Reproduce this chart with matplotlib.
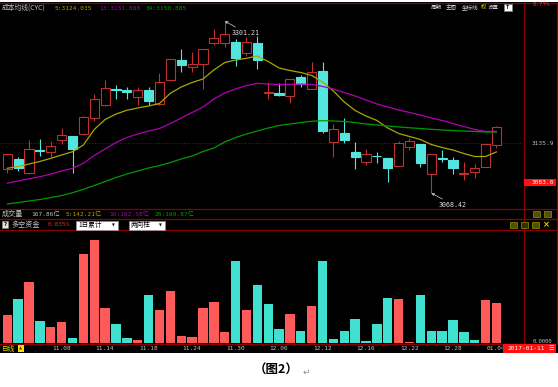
import matplotlib
matplotlib.use('Agg')
import matplotlib.pyplot as plt
from matplotlib.patches import Rectangle
import numpy as np

plt.rcParams['font.family'] = ['DejaVu Sans Mono', 'Noto Sans CJK SC']

# ---------------- data ----------------
dates = ['11.01', '11.02', '11.03', '11.04', '11.07', '11.08', '11.09', '11.10', '11.11',
         '11.14', '11.15', '11.16', '11.17', '11.18', '11.21', '11.22', '11.23', '11.24',
         '11.25', '11.28', '11.29', '11.30', '12.01', '12.02', '12.05', '12.06', '12.07',
         '12.08', '12.09', '12.12', '12.13', '12.14', '12.15', '12.16', '12.19', '12.20',
         '12.21', '12.22', '12.23', '12.26', '12.27', '12.28', '12.29', '12.30', '01.03',
         '01.04']
tick_dates = ['11.08', '11.14', '11.18', '11.24', '11.30', '12.06', '12.12', '12.16',
              '12.22', '12.28', '01.04']

opens = [3100.5, 3114.8, 3095.1, 3126.2, 3124.3, 3140.2, 3145.2, 3147.9, 3169.5, 3187.5,
         3209.4, 3208.2, 3198.8, 3207.4, 3188.9, 3221.4, 3248.4, 3238.5, 3242.6, 3271.0,
         3271.0, 3272.8, 3258.3, 3271.0, 3204.0, 3203.4, 3199.7, 3225.8, 3209.2, 3233.9,
         3137.9, 3149.2, 3124.3, 3110.0, 3118.8, 3115.4, 3105.4, 3131.1, 3134.3, 3094.1,
         3115.8, 3113.1, 3094.8, 3096.4, 3104.0, 3133.4]
closes = [3120.8, 3102.7, 3128.0, 3125.4, 3132.0, 3146.5, 3127.6, 3171.3, 3196.1, 3210.9,
          3208.4, 3205.5, 3208.2, 3192.9, 3218.2, 3249.4, 3241.6, 3242.6, 3262.9, 3277.8,
          3283.2, 3250.7, 3273.2, 3248.4, 3204.6, 3200.6, 3222.3, 3216.3, 3232.6, 3152.3,
          3154.6, 3140.2, 3116.7, 3121.2, 3118.1, 3101.9, 3136.5, 3139.2, 3108.6, 3121.2,
          3114.8, 3101.9, 3095.3, 3102.7, 3134.7, 3158.2]
highs = [3121.2, 3117.6, 3140.2, 3141.1, 3139.2, 3156.0, 3145.6, 3172.0, 3202.4, 3221.4,
         3215.0, 3211.5, 3211.5, 3212.3, 3230.4, 3250.2, 3263.3, 3258.8, 3263.4, 3290.0,
         3301.21, 3277.3, 3279.1, 3280.9, 3219.1, 3216.9, 3222.6, 3228.1, 3246.1, 3246.1,
         3161.8, 3169.5, 3137.9, 3128.0, 3124.3, 3116.0, 3139.2, 3142.5, 3134.6, 3121.6,
         3126.6, 3117.6, 3110.8, 3107.7, 3135.2, 3159.6]
lows = [3095.9, 3098.6, 3094.1, 3118.5, 3116.7, 3134.7, 3095.9, 3147.0, 3166.3, 3186.2,
        3195.2, 3196.1, 3187.5, 3187.5, 3188.0, 3220.8, 3232.6, 3232.6, 3209.2, 3269.1,
        3265.6, 3240.3, 3253.8, 3235.8, 3195.2, 3199.8, 3189.8, 3212.3, 3208.8, 3149.2,
        3117.5, 3135.7, 3100.5, 3106.3, 3109.4, 3083.7, 3105.0, 3126.6, 3104.0, 3068.42,
        3110.8, 3094.1, 3086.0, 3088.3, 3103.6, 3128.9]

cyc5 = [3101.9, 3104.3, 3107.7, 3111.1, 3115.4, 3119.9, 3124.3, 3133.4, 3154.4, 3167.9,
        3175.3, 3180.4, 3183.5, 3186.2, 3189.6, 3203.4, 3211.9, 3218.0, 3222.7, 3234.9,
        3245.0, 3248.4, 3250.7, 3253.8, 3246.4, 3237.6, 3234.2, 3231.5, 3227.5, 3218.7,
        3206.5, 3191.6, 3180.1, 3172.6, 3166.6, 3156.4, 3149.0, 3144.9, 3140.8, 3134.1,
        3130.0, 3126.6, 3121.9, 3117.8, 3117.8, 3124.035]
cyc13 = [3081.6, 3084.7, 3087.6, 3090.5, 3094.1, 3098.2, 3101.9, 3108.6, 3119.2, 3128.0,
         3136.8, 3143.5, 3148.3, 3152.3, 3155.7, 3162.5, 3169.9, 3177.4, 3184.8, 3195.6,
         3203.8, 3209.2, 3213.9, 3216.9, 3215.9, 3215.3, 3215.5, 3215.7, 3215.5, 3212.6,
         3209.2, 3204.4, 3199.7, 3194.3, 3188.9, 3184.8, 3180.8, 3177.4, 3174.0, 3169.9,
         3166.6, 3162.5, 3158.4, 3154.4, 3151.7, 3151.888]
cyc34 = [3053.5, 3055.6, 3057.6, 3059.6, 3062.3, 3065.0, 3068.8, 3073.4, 3078.6, 3084.0,
         3089.4, 3094.1, 3098.2, 3102.3, 3105.6, 3109.7, 3114.4, 3118.5, 3124.6, 3129.3,
         3137.5, 3143.5, 3148.3, 3152.3, 3156.4, 3159.8, 3161.8, 3163.8, 3165.5, 3166.3,
         3165.9, 3165.2, 3163.8, 3161.8, 3160.5, 3159.1, 3157.8, 3156.7, 3155.7, 3154.6,
         3153.7, 3153.0, 3152.3, 3151.7, 3151.0, 3150.885]

# 多空资金 (positive = red / inflow, negative = cyan / outflow)
fund_flow = [28.3, -44.3, 61.0, -22.6, 16.0, 21.6, -5.3, 89.0, 103.3, 35.0, -19.3, -5.3,
             3.3, -48.6, 33.0, 52.6, 7.3, 6.0, 35.6, 41.0, 11.6, -82.6, 33.6, -58.3, -39.3,
             -14.0, 29.3, -12.6, 37.0, -82.6, -4.0, -12.0, -24.3, -2.3, -19.0, -45.3, 44.0,
             1.3, -48.6, -12.0, -12.6, -23.0, -11.3, -3.3, 43.3, 40.3]

prev_close = 3135.9
cursor_price = 3083.0
cursor_date = '2017-01-11'
vol_labels = ['167.86亿', '5:142.21亿', '10:162.58亿', '20:169.87亿']

# ---------------- style ----------------
W, H = 558, 387
GRAY = '#C0C0C0'
RED_LINE = '#8B0000'
C_RED = '#C03030'
C_CYAN = '#54E6DE'
B_RED = '#FF5A5A'
B_CYAN = '#40E0D0'
Y_COL, M_COL, G_COL = '#A8A800', '#B000B0', '#009A00'
FS = 4.4
CJ = 5.1
CJK = ['Noto Sans CJK SC', 'DejaVu Sans']

fig = plt.figure(figsize=(W / 100, H / 100), dpi=100)
fig.patch.set_facecolor('white')


def rect(x0, y0, x1, y1):
    return [x0 / W, 1 - y1 / H, (x1 - x0) / W, (y1 - y0) / H]


bg = fig.add_axes([0, 0, 1, 1])
bg.set_xlim(0, W)
bg.set_ylim(H, 0)
bg.axis('off')
bg.add_patch(Rectangle((0, 2), W, 350.5, facecolor='black', edgecolor='none', zorder=0))
for yy in [3, 209, 219, 230]:
    bg.plot([0, W], [yy, yy], color=RED_LINE, lw=0.9, zorder=1)
bg.plot([0, 523.5], [343.8, 343.8], color=RED_LINE, lw=0.9, zorder=1)
bg.plot([523.5, 523.5], [3, 343.8], color=RED_LINE, lw=0.9, zorder=1)
bg.plot([556.5, 556.5], [3, 343.8], color=RED_LINE, lw=0.9, zorder=1)

x = np.arange(len(dates))
xl = (-7.3 / 10.87, (523 - 7.3) / 10.87)

# ---------------- main price panel ----------------
ax = fig.add_axes(rect(0, 3, 523, 209))
ax.set_facecolor('none')
for s in ax.spines.values():
    s.set_visible(False)
ax.set_xlim(*xl)
ax.set_ylim(3046.77, 3325.57)
ax.set_xticks([])

for i in x:
    o, c, h, l = opens[i], closes[i], highs[i], lows[i]
    up = c >= o
    col = C_RED if up else C_CYAN
    ax.vlines(i, l, h, color=col, lw=0.8, zorder=2)
    ax.add_patch(Rectangle((i - 0.42, min(o, c)), 0.84, max(abs(c - o), 0.05),
                           facecolor='black' if up else col, edgecolor=col,
                           lw=0.8, zorder=3))

ax.plot(x, cyc5, color=Y_COL, lw=0.9, zorder=4)
ax.plot(x, cyc13, color=M_COL, lw=0.9, zorder=4)
ax.plot(x, cyc34, color=G_COL, lw=0.9, zorder=4)
ax.axhline(prev_close, color=RED_LINE, lw=0.8, ls=(0, (1, 1.5)), zorder=1)

hi = int(np.argmax(highs))
lo = int(np.argmin(lows))
ax.annotate(f'{highs[hi]:.2f}', xy=(hi, highs[hi]), xytext=(5, -8.5),
            textcoords='offset points', ha='left', va='center', color='#E0E0E0',
            fontsize=FS + 0.4,
            arrowprops=dict(arrowstyle='-|>', color='#B0B0B0', lw=0.6,
                            mutation_scale=4, shrinkA=0, shrinkB=0))
ax.annotate(f'{lows[lo]:.2f}', xy=(lo, lows[lo]), xytext=(5.5, -8.5),
            textcoords='offset points', ha='left', va='center', color='#E0E0E0',
            fontsize=FS + 0.4,
            arrowprops=dict(arrowstyle='-|>', color='#B0B0B0', lw=0.6,
                            mutation_scale=4, shrinkA=0, shrinkB=0))

ax.yaxis.tick_right()
ax.set_yticks([prev_close])
ax.set_yticklabels([f'{prev_close:.1f}'])
ax.tick_params(axis='y', length=0, pad=6.3, labelcolor=GRAY, labelsize=FS)
ytr = ax.get_yaxis_transform()
ax.add_patch(Rectangle((1.002, cursor_price - 5.0), 0.062, 10.0, transform=ytr,
                       facecolor='#FF1010', edgecolor='none', clip_on=False, zorder=5))
ax.text(1.017, cursor_price, f'{cursor_price:.1f}', transform=ytr, color='white',
        fontsize=FS, va='center', ha='left', clip_on=False, zorder=6)

# ---------------- fund flow panel ----------------
vax = fig.add_axes(rect(0, 230, 523, 343.3))
vax.set_facecolor('none')
for s in vax.spines.values():
    s.set_visible(False)
vax.set_xlim(*xl)
vax.set_ylim(0, 113.3)
vax.set_yticks([])
flow = np.array(fund_flow)
vax.bar(x, np.abs(flow), width=0.86, color=[B_RED if v > 0 else B_CYAN for v in flow],
        edgecolor='none', zorder=2)
vax.set_xticks([dates.index(d) for d in tick_dates])
vax.set_xticklabels(tick_dates)
vax.tick_params(axis='x', length=0, pad=2.3, labelcolor=GRAY, labelsize=FS)

# ---------------- overlay texts ----------------
top = fig.add_axes([0, 0, 1, 1])
top.set_facecolor('none')
top.set_xlim(0, W)
top.set_ylim(H, 0)
top.axis('off')


def t(xp, yp, s, color=GRAY, size=FS, **kw):
    top.text(xp, yp, s, color=color, fontsize=size, va='center', ha='left', **kw)


t(2, 8, '成本均线(CYC)', GRAY, 4.9, family=CJK)
t(55, 8, f'5:{cyc5[-1]:.3f}', Y_COL)
t(99, 8, f'13:{cyc13[-1]:.3f}', M_COL)
t(146, 8, f'34:{cyc34[-1]:.3f}', G_COL)

MS = 4.0
t(431, 7.5, '周期', '#D0D0D0', MS, family=CJK)
t(446, 7.5, '主图', '#D0D0D0', MS, family=CJK)
t(462, 7.5, '坐标线', '#D0D0D0', MS, family=CJK)
t(480.5, 7.5, '权', '#D8D800', MS, family=CJK)
t(488, 7.5, '设置', '#D0D0D0', MS, family=CJK)
top.add_patch(Rectangle((504, 3.8), 7.5, 7.5, facecolor='white', edgecolor='#808080', lw=0.5))
top.text(507.8, 7.6, '↑', color='black', fontsize=4.5, ha='center', va='center',
         family='DejaVu Sans', fontweight='bold')
t(533, 5, '0.77%', '#FF2A2A', 4.2)

t(2, 214, '成交量', GRAY, CJ, family=CJK)
t(31, 214, vol_labels[0])
t(66, 214, vol_labels[1], Y_COL)
t(109, 214, vol_labels[2], M_COL)
t(155, 214, vol_labels[3], G_COL)

top.add_patch(Rectangle((2, 221.2), 6, 7, facecolor='#E8E8D0', edgecolor='#909090', lw=0.4))
top.text(5, 224.8, '?', color='black', fontsize=3.8, ha='center', va='center',
         family='DejaVu Sans', fontweight='bold')
t(11, 225, '多空资金', GRAY, CJ, family=CJK)
t(48, 225, '0.035%', '#E03030')
top.add_patch(Rectangle((76, 221), 42, 8.5, facecolor='white', edgecolor='#909090', lw=0.5))
t(78, 225.3, '1日累计', 'black', 4.8, family=CJK)
top.text(113, 225.3, '▼', color='black', fontsize=2.6, ha='center', va='center',
         family='DejaVu Sans')
top.add_patch(Rectangle((129, 221), 36, 8.5, facecolor='white', edgecolor='#909090', lw=0.5))
t(131, 225.3, '两向柱', 'black', 4.8, family=CJK)
top.text(160, 225.3, '▼', color='black', fontsize=2.6, ha='center', va='center',
         family='DejaVu Sans')

# small toolbar icons
for xi in [533, 544]:
    top.add_patch(Rectangle((xi, 211), 6.5, 6, facecolor='#505000', edgecolor='#B0B000', lw=0.4))
for xi, col in [(510, '#505000'), (521, '#303000'), (532, '#505000')]:
    top.add_patch(Rectangle((xi, 221.5), 6.5, 6, facecolor=col, edgecolor='#B0B000', lw=0.4))
top.text(546.5, 224.8, '×', color='#D8D800', fontsize=6, ha='center', va='center',
         family='DejaVu Sans', fontweight='bold')

t(2, 348.5, '日线', '#D8D800', 4.8, family=CJK)
top.add_patch(Rectangle((17.5, 345), 6.5, 7, facecolor='#E8E800', edgecolor='none'))
top.text(20.7, 348.6, '▲', color='#C00000', fontsize=3, ha='center', va='center',
         family='DejaVu Sans')
t(533, 341.2, '0.0000', GRAY, 4.0)

top.add_patch(Rectangle((503, 344), 53, 8.5, facecolor='#FF1010', edgecolor='none', zorder=5))
top.text(507.5, 348.4, cursor_date, color='white', fontsize=FS, va='center', ha='left', zorder=6)
top.text(551, 348.4, '☰', color='white', fontsize=4.5, va='center', ha='center',
         family='DejaVu Sans', zorder=6)

top.text(276, 370, '（图2）', color='black', fontsize=9, fontweight='bold',
         ha='center', va='center', family=CJK)
top.text(306, 372, '↵', color='#909090', fontsize=6.5, ha='center', va='center',
         family='DejaVu Sans')

fig.savefig('out.png', dpi=100, facecolor='white')
